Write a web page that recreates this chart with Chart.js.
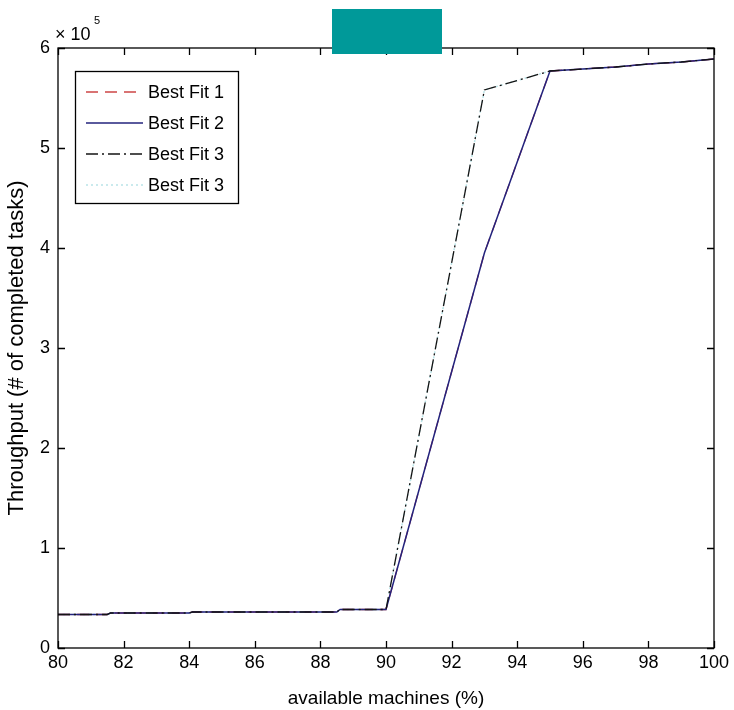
<!DOCTYPE html>
<html>
<head>
<meta charset="utf-8">
<script src="https://cdn.jsdelivr.net/npm/chart.js@4.4.1/dist/chart.umd.min.js"></script>
<style>
  html, body { margin: 0; padding: 0; background: #fff; }
  canvas { display: block; }
</style>
</head>
<body>
<canvas id="chart" width="734" height="710"></canvas>
<script>
// values (throughput in tasks, x in % available machines)
const lowX = [80, 81.5, 81.6, 84, 84.1, 88.5, 88.6, 90];
const lowY = [33500, 33500, 35000, 35000, 36000, 36000, 38500, 38500];

const fit2X = [93, 95, 96, 97, 98, 99, 100];
const fit2Y = [395000, 577000, 579000, 581000, 584000, 586000, 589000];

const fit3X = [93, 95, 96, 97, 98, 99, 100];
const fit3Y = [558000, 577000, 579000, 581000, 584000, 586000, 589000];

const xTicks = [80, 82, 84, 86, 88, 90, 92, 94, 96, 98, 100];
const yTicks = [0, 100000, 200000, 300000, 400000, 500000, 600000];

const seriesNames = ["Best Fit 1", "Best Fit 2", "Best Fit 3", "Best Fit 3"];

function points(xs, ys) {
  return xs.map((x, i) => ({ x, y: ys[i] }));
}

const fit2 = points(lowX.concat(fit2X), lowY.concat(fit2Y));
const fit3 = points(lowX.concat(fit3X), lowY.concat(fit3Y));

const FONT = "'Liberation Sans', Arial, sans-serif";

const frame = {
  id: "frame",
  afterDraw(chart) {
    const { ctx, chartArea: a, scales } = chart;
    ctx.save();
    ctx.strokeStyle = "#000";
    ctx.lineWidth = 1.3;
    ctx.strokeRect(a.left, a.top, a.right - a.left, a.bottom - a.top);
    const tl = 7;
    ctx.beginPath();
    for (const v of xTicks) {
      const px = Math.round(scales.x.getPixelForValue(v)) + 0.5;
      ctx.moveTo(px, a.bottom); ctx.lineTo(px, a.bottom - tl);
      ctx.moveTo(px, a.top); ctx.lineTo(px, a.top + tl);
    }
    for (const v of yTicks) {
      const py = Math.round(scales.y.getPixelForValue(v)) + 0.5;
      ctx.moveTo(a.left, py); ctx.lineTo(a.left + tl, py);
      ctx.moveTo(a.right, py); ctx.lineTo(a.right - tl, py);
    }
    ctx.stroke();

    // exponent label
    ctx.fillStyle = "#000";
    ctx.font = "18px " + FONT;
    ctx.textBaseline = "alphabetic";
    ctx.fillText("\u00d7 10", 55, 40);
    ctx.font = "11px " + FONT;
    ctx.fillText("5", 94, 24);

    // legend
    const lx = 75, ly = 71, lw = 163, lh = 132;
    ctx.fillStyle = "#fff";
    ctx.fillRect(lx, ly, lw, lh);
    ctx.strokeStyle = "#000";
    ctx.lineWidth = 1.3;
    ctx.strokeRect(lx + 0.5, ly + 0.5, lw, lh);
    chart.data.datasets.forEach((ds, i) => {
      const y = 92 + i * 31;
      ctx.strokeStyle = ds.borderColor;
      ctx.lineWidth = ds.borderWidth;
      ctx.setLineDash(ds.borderDash || []);
      ctx.beginPath();
      ctx.moveTo(86, y); ctx.lineTo(143, y);
      ctx.stroke();
      ctx.setLineDash([]);
      ctx.fillStyle = "#000";
      ctx.font = "18px " + FONT;
      ctx.textBaseline = "middle";
      ctx.fillText(ds.label, 148, y + 1);
    });

    // masked block at the top
    ctx.fillStyle = "#009999";
    ctx.fillRect(332, 9, 110, 45);
    ctx.restore();
  },
};

new Chart(document.getElementById("chart"), {
  type: "line",
  data: {
    datasets: [
      {
        label: seriesNames[0],
        data: fit2,
        borderColor: "rgb(205,70,70)",
        borderWidth: 1.3,
        borderDash: [12, 7],
        pointRadius: 0,
        order: 3,
      },
      {
        label: seriesNames[1],
        data: fit2,
        borderColor: "rgb(35,35,125)",
        borderWidth: 1.5,
        pointRadius: 0,
        order: 2,
      },
      {
        label: seriesNames[2],
        data: fit3,
        borderColor: "rgb(20,20,20)",
        borderWidth: 1.3,
        borderDash: [12, 4, 2, 4],
        pointRadius: 0,
        order: 1,
      },
      {
        label: seriesNames[3],
        data: fit3,
        borderColor: "rgb(185,228,232)",
        borderWidth: 1.5,
        borderDash: [2, 3],
        pointRadius: 0,
        order: 4,
      },
    ],
  },
  options: {
    responsive: false,
    animation: false,
    devicePixelRatio: 1,
    layout: { padding: { top: 48, right: 20, left: 0, bottom: 0 } },
    plugins: { legend: { display: false }, tooltip: { enabled: false } },
    elements: { line: { tension: 0 } },
    scales: {
      x: {
        type: "linear",
        min: 80,
        max: 100,
        afterFit(scale) { scale.height = 62; },
        afterBuildTicks(scale) { scale.ticks = xTicks.map((v) => ({ value: v })); },
        grid: { display: false, drawTicks: false },
        border: { display: false },
        ticks: { color: "#000", font: { family: FONT, size: 18 }, padding: 4, maxRotation: 0 },
        title: {
          display: true,
          text: "available machines (%)",
          color: "#000",
          font: { family: FONT, size: 19 },
          padding: { top: 9, bottom: 0 },
        },
      },
      y: {
        min: 0,
        max: 600000,
        afterFit(scale) { scale.width = 58; },
        afterBuildTicks(scale) { scale.ticks = yTicks.map((v) => ({ value: v })); },
        grid: { display: false, drawTicks: false },
        border: { display: false },
        ticks: {
          color: "#000",
          font: { family: FONT, size: 18 },
          padding: 8,
          callback: (v) => String(v / 100000),
        },
        title: {
          display: true,
          text: "Throughput (# of completed tasks)",
          color: "#000",
          font: { family: FONT, size: 22 },
          padding: { top: 4, bottom: 0 },
        },
      },
    },
  },
  plugins: [frame],
});
</script>
</body>
</html>
